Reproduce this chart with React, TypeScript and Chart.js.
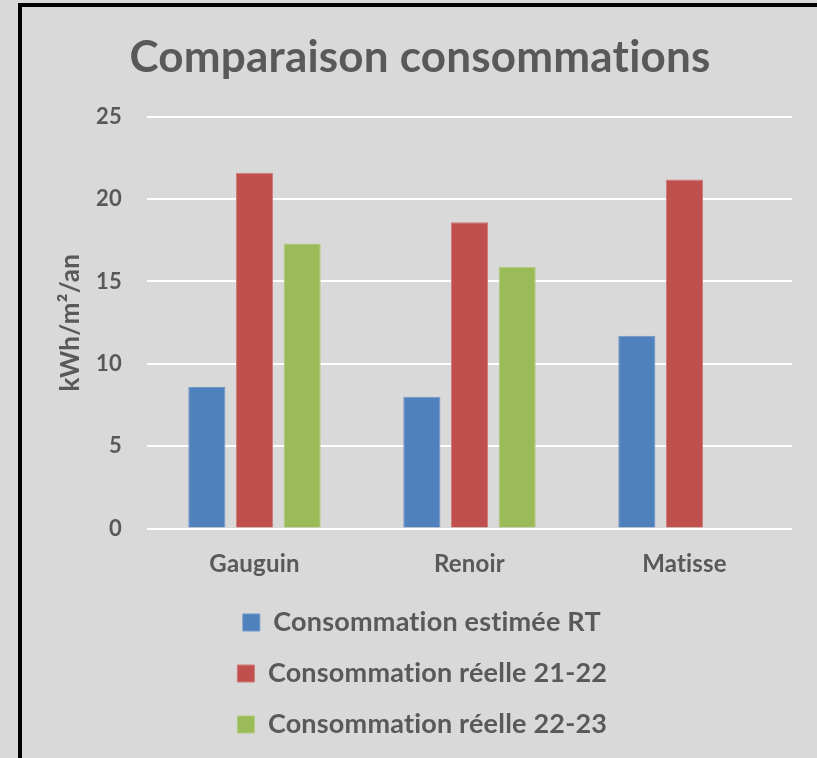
import React, { useEffect, useRef } from "react";
import { Chart, registerables } from "chart.js";

Chart.register(...registerables);

const categories: string[] = ["Gauguin", "Renoir", "Matisse"];
const estimeeRT: (number | null)[] = [8.6, 8.0, 11.7];
const reelle2122: (number | null)[] = [21.6, 18.6, 21.2];
const reelle2223: (number | null)[] = [17.3, 15.9, null];
const seriesLabels: string[] = [
  "Consommation estimée RT",
  "Consommation réelle 21-22",
  "Consommation réelle 22-23",
];
const yTicks: number[] = [0, 5, 10, 15, 20, 25];

const FONT = "Lato, 'Open Sans', sans-serif";
const TEXT = "#595959";

const frameAndSpacing = {
  id: "frameAndSpacing",
  beforeDraw(chart: any) {
    const ctx = chart.ctx as any;
    ctx.save();
    ctx.fillStyle = "#d9d9d9";
    ctx.fillRect(0, 0, chart.width, chart.height);
    ctx.fillStyle = "#000000";
    ctx.fillRect(18, 3, 4, chart.height - 3);
    ctx.fillRect(18, 3, chart.width - 18, 4);
    ctx.restore();
    if ("letterSpacing" in ctx) ctx.letterSpacing = "0.2px";
  },
};

export default function App() {
  const ref = useRef<HTMLCanvasElement | null>(null);

  useEffect(() => {
    document.documentElement.style.background = "#d9d9d9";
    document.body.style.margin = "0";
    document.body.style.overflow = "hidden";
    if (!ref.current) return;
    const chart = new Chart(ref.current, {
      type: "bar",
      data: {
        labels: categories,
        datasets: [
          {
            label: seriesLabels[0],
            data: estimeeRT,
            backgroundColor: "#4f81bd",
            borderColor: "#6f97c9",
            borderWidth: 1,
          },
          {
            label: seriesLabels[1],
            data: reelle2122,
            backgroundColor: "#c0504d",
            borderColor: "#cf7a78",
            borderWidth: 1,
          },
          {
            label: seriesLabels[2],
            data: reelle2223,
            backgroundColor: "#9bbb59",
            borderColor: "#b2cb7f",
            borderWidth: 1,
          },
        ],
      },
      plugins: [frameAndSpacing],
      options: {
        responsive: false,
        animation: false,
        devicePixelRatio: 1,
        layout: { padding: { left: 48, right: 25, top: 0, bottom: 10 } },
        datasets: {
          bar: { categoryPercentage: 0.665, barPercentage: 0.78 },
        },
        scales: {
          x: {
            grid: { display: false },
            border: { display: false },
            ticks: {
              color: TEXT,
              padding: 13,
              font: { family: FONT, size: 24, weight: "bold" },
            },
            afterFit: (scale: any) => {
              scale.height = 56.5;
            },
          },
          y: {
            min: 0,
            max: 25,
            afterBuildTicks: (scale: any) => {
              scale.ticks = yTicks.map((v) => ({ value: v }));
            },
            grid: { color: "#ffffff", lineWidth: 2, drawTicks: false },
            border: { display: false },
            ticks: {
              color: TEXT,
              padding: 25,
              font: { family: FONT, size: 22, weight: "bold" },
            },
            title: {
              display: true,
              text: "kWh/m²/an",
              color: TEXT,
              padding: { top: 7, bottom: 0 },
              font: { family: FONT, size: 26, weight: "bold" },
            },
            afterFit: (scale: any) => {
              scale.width = 99;
            },
          },
        },
        plugins: {
          title: {
            display: true,
            text: "Comparaison consommations",
            color: TEXT,
            padding: { top: 31, bottom: 33 },
            font: { family: FONT, size: 44, weight: "bold" },
          },
          legend: {
            position: "bottom",
            labels: {
              color: TEXT,
              boxWidth: 17,
              boxHeight: 17,
              padding: 24,
              font: { family: FONT, size: 27, weight: "bold" },
            },
          },
          tooltip: { enabled: false },
        },
      },
    });
    return () => chart.destroy();
  }, []);

  return (
    <div
      style={{
        position: "fixed",
        left: 0,
        top: 0,
        width: 817,
        height: 758,
        overflow: "hidden",
        background: "#d9d9d9",
      }}
    >
      <canvas
        ref={ref}
        width={817}
        height={758}
        style={{ position: "absolute", left: 0, top: 0, width: 817, height: 758 }}
      />
    </div>
  );
}
